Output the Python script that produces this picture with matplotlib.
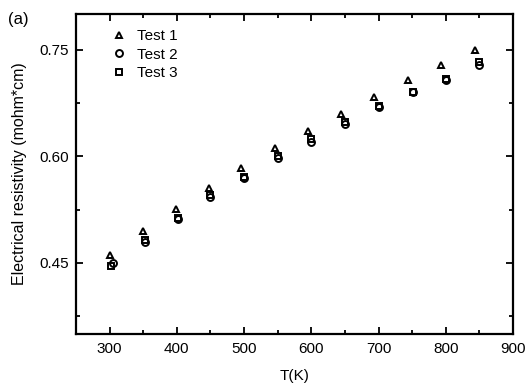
import matplotlib
matplotlib.use("Agg")
import matplotlib.pyplot as plt
from matplotlib.ticker import MultipleLocator

plt.rcParams['font.family'] = ['Liberation Sans', 'DejaVu Sans']

t1_x = [301, 350, 399, 448, 496, 546, 595, 644, 693, 744, 793, 843]
t1_y = [0.461, 0.495, 0.526, 0.555, 0.583, 0.612, 0.635, 0.660, 0.683, 0.707, 0.728, 0.749]
t2_x = [305, 352, 401, 450, 500, 550, 600, 650, 700, 751, 800, 850]
t2_y = [0.450, 0.479, 0.512, 0.543, 0.569, 0.597, 0.620, 0.646, 0.669, 0.690, 0.708, 0.728]
t3_x = [302, 352, 401, 450, 500, 550, 600, 650, 700, 751, 800, 850]
t3_y = [0.446, 0.482, 0.513, 0.545, 0.571, 0.600, 0.624, 0.648, 0.671, 0.690, 0.709, 0.733]

fig = plt.figure(figsize=(5.31, 3.92), dpi=100)
ax = fig.add_axes([0.1431, 0.148, 0.823, 0.816])

mk = dict(linestyle='none', markerfacecolor='none', markeredgecolor='black',
          markeredgewidth=1.4)
ax.plot(t1_x, t1_y, marker='^', label='Test 1', markersize=5, **mk)
ax.plot(t2_x, t2_y, marker='o', label='Test 2', markersize=5, **mk)
ax.plot(t3_x, t3_y, marker='s', label='Test 3', markersize=4.5, **mk)

ax.set_xlim(250, 900)
ax.set_ylim(0.35, 0.80)
ax.xaxis.set_major_locator(MultipleLocator(100))
ax.xaxis.set_minor_locator(MultipleLocator(50))
ax.yaxis.set_minor_locator(MultipleLocator(0.075))
ax.set_yticks([0.45, 0.60, 0.75])
ax.set_yticklabels(['0.45', '0.60', '0.75'])

ax.tick_params(which='both', direction='in', top=True, right=True, width=1.3)
ax.tick_params(which='major', length=5, labelsize=11)
ax.tick_params(axis='x', which='major', pad=6)
ax.tick_params(axis='y', which='major', pad=5)
ax.tick_params(which='minor', length=3)
for s in ax.spines.values():
    s.set_linewidth(1.6)

ax.set_xlabel('T(K)', fontsize=11, labelpad=9)
ax.set_ylabel('Electrical resistivity (mohm*cm)', fontsize=11.5, labelpad=9)

fig.text(0.015, 0.949, '(a)', fontsize=12, ha='left', va='center')

leg = ax.legend(loc='upper left', bbox_to_anchor=(0.056, 0.982), frameon=False,
                fontsize=11, handletextpad=0.6, labelspacing=0.3, handlelength=1.2,
                borderaxespad=0.2)

fig.savefig('out.png', dpi=100)
